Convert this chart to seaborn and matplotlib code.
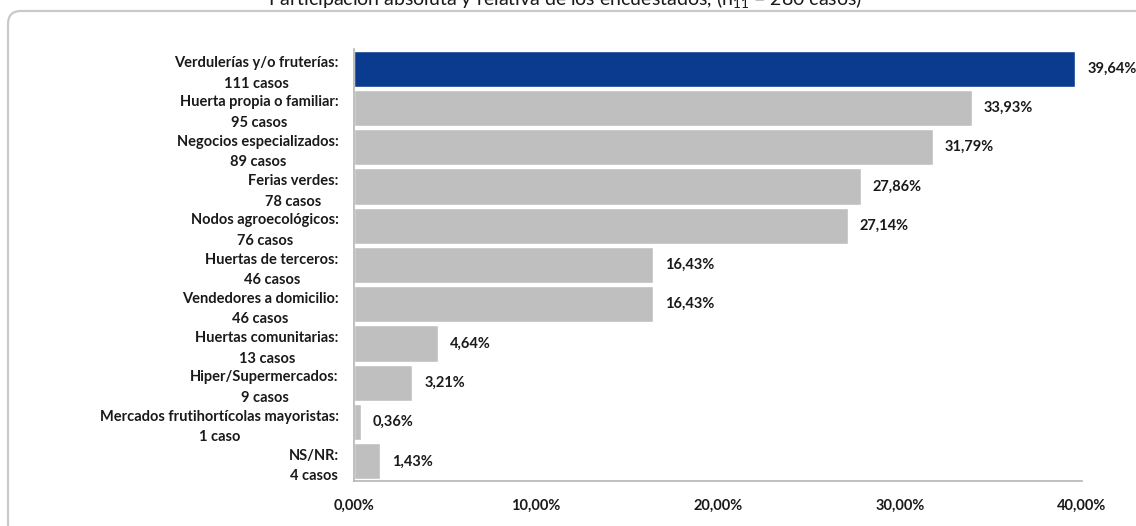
import matplotlib
matplotlib.use("Agg")
import matplotlib.pyplot as plt
from matplotlib.patches import FancyBboxPatch
from matplotlib.transforms import IdentityTransform
import seaborn as sns
import pandas as pd

# Survey data: purchase channels, number of cases and share of respondents (%)
categories = [
    "Verdulerías y/o fruterías",
    "Huerta propia o familiar",
    "Negocios especializados",
    "Ferias verdes",
    "Nodos agroecológicos",
    "Huertas de terceros",
    "Vendedores a domicilio",
    "Huertas comunitarias",
    "Hiper/Supermercados",
    "Mercados frutihortícolas mayoristas",
    "NS/NR",
]
cases = [111, 95, 89, 78, 76, 46, 46, 13, 9, 1, 4]
percent = [39.64, 33.93, 31.79, 27.86, 27.14, 16.43, 16.43, 4.64, 3.21, 0.36, 1.43]
x_ticks = [0, 10, 20, 30, 40]
title = "Participación absoluta y relativa de los encuestados, (n$_{11}$ = 280 casos)"

BLUE = "#0A3B8F"
GREY = "#BFBFBF"
TEXT = "#1A1A1A"
FS = 10.5

sns.set_theme(style="white")
plt.rcParams["font.family"] = ["Lato", "DejaVu Sans"]
plt.rcParams["mathtext.default"] = "regular"

labels = [
    f"{c}:\n{n} {'caso' if n == 1 else 'casos'}" for c, n in zip(categories, cases)
]
df = pd.DataFrame({"label": labels, "pct": percent})
palette = [BLUE] + [GREY] * (len(labels) - 1)

W, H = 1136, 526
fig = plt.figure(figsize=(W / 100, H / 100), dpi=100)
ax = fig.add_axes([354 / W, 1 - 481 / H, (1082 - 354) / W, (481 - 49) / H])

sns.barplot(
    data=df, x="pct", y="label", hue="label", palette=palette,
    legend=False, width=0.92, saturation=1, ax=ax, orient="h",
)

ax.set_xlim(0, 40)
ax.set_ylim(len(labels) - 0.5, -0.5)
ax.set_xticks(x_ticks)
ax.set_xticklabels([f"{t:.2f}%".replace(".", ",") for t in x_ticks])
ax.set_xlabel("")
ax.set_ylabel("")
ax.tick_params(axis="x", length=0, pad=13, labelsize=FS, labelcolor=TEXT)
ax.tick_params(axis="y", length=0, pad=11, labelsize=FS, labelcolor=TEXT)
for lab in ax.get_xticklabels():
    lab.set_fontweight("bold")
for lab in ax.get_yticklabels():
    lab.set_fontweight("bold")
    lab.set_multialignment("center")
    lab.set_linespacing(1.6)

for side in ("top", "right"):
    ax.spines[side].set_visible(False)
for side in ("left", "bottom"):
    ax.spines[side].set_color("#B5B5B5")
    ax.spines[side].set_linewidth(1.2)

# Value labels next to each bar
for i, p in enumerate(percent):
    ax.text(p + 0.65, i, f"{p:.2f}%".replace(".", ","), va="center", ha="left",
            fontsize=FS, fontweight="bold", color=TEXT)

# Rounded outer frame
frame = FancyBboxPatch((8, -12), 1150, H - 11 + 12,
                       boxstyle="round,pad=0,rounding_size=13",
                       transform=IdentityTransform(), fill=False,
                       edgecolor="#C9C9C9", linewidth=1.6, zorder=-1)
fig.patches.append(frame)

fig.text(565 / W, 1 - 4.5 / H, title, ha="center", va="baseline",
         fontsize=14, color=TEXT)

fig.savefig("out.png", dpi=100)
